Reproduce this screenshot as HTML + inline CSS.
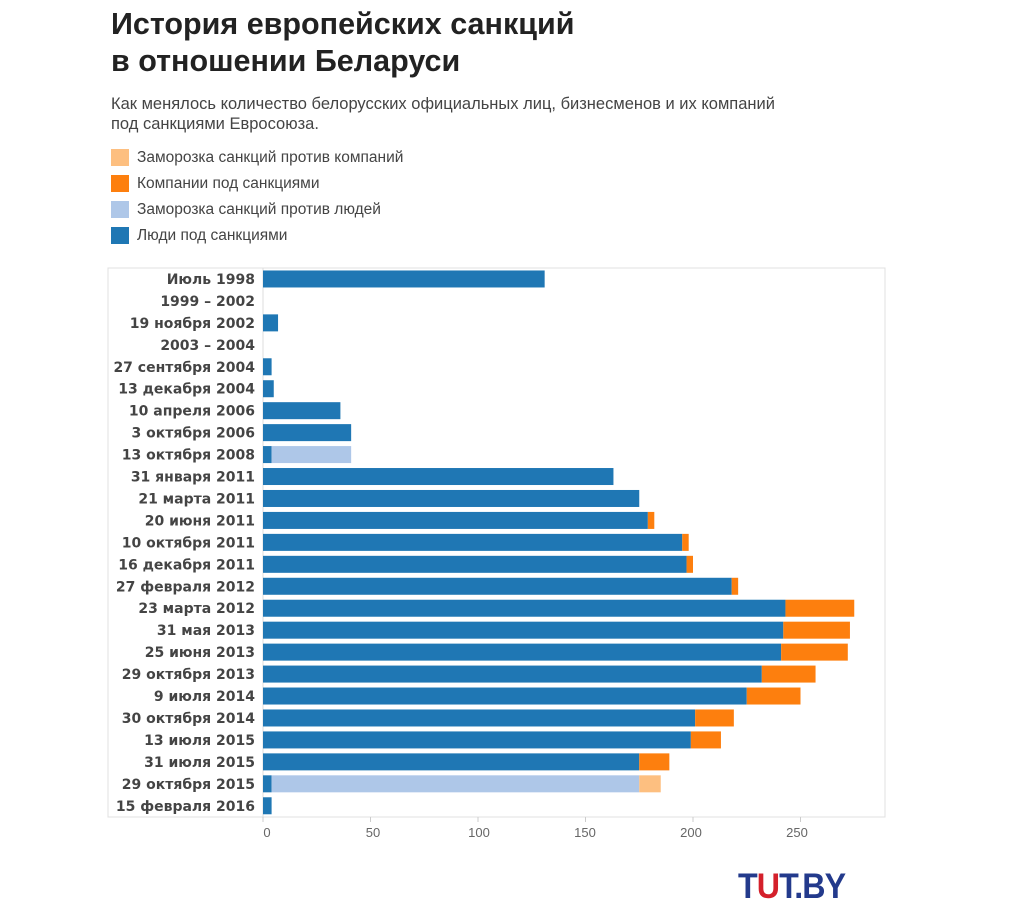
<!DOCTYPE html>
<html><head><meta charset="utf-8"><style>
body{margin:0;background:#fff;width:1024px;height:924px;overflow:hidden;font-family:"Liberation Sans","DejaVu Sans",sans-serif;}
.t{position:absolute;left:111px;font-weight:bold;font-size:30.5px;color:#222;line-height:37px}
.sub{position:absolute;left:111px;top:94px;font-size:16.5px;color:#444;line-height:20px}
.leg{position:absolute;left:111px;font-size:15.5px;color:#444}
.leg i{display:inline-block;width:18px;height:17px;vertical-align:middle;margin-right:8px}
</style></head><body>
<div class="t" style="top:6px">История европейских санкций<br>в отношении Беларуси</div>
<div class="sub">Как менялось количество белорусских официальных лиц, бизнесменов и их компаний<br>под санкциями Евросоюза.</div>
<div class="leg" style="top:149px"><i style="background:#fdbf80"></i>Заморозка санкций против компаний</div>
<div class="leg" style="top:175px"><i style="background:#fd7f0e"></i>Компании под санкциями</div>
<div class="leg" style="top:201px"><i style="background:#aec7e8"></i>Заморозка санкций против людей</div>
<div class="leg" style="top:227px"><i style="background:#1f77b4"></i>Люди под санкциями</div>
<svg id="c" width="1024" height="924" style="position:absolute;left:0;top:0"></svg>
<div style="position:absolute;left:738px;top:867px;font-weight:900;font-size:35px;color:#233a8c;letter-spacing:-1px;transform:scaleX(0.92);transform-origin:left">T<span style="color:#d4202b">U</span>T.BY</div>
<script>
const categories=["Июль 1998","1999 – 2002","19 ноября 2002","2003 – 2004","27 сентября 2004","13 декабря 2004","10 апреля 2006","3 октября 2006","13 октября 2008","31 января 2011","21 марта 2011","20 июня 2011","10 октября 2011","16 декабря 2011","27 февраля 2012","23 марта 2012","31 мая 2013","25 июня 2013","29 октября 2013","9 июля 2014","30 октября 2014","13 июля 2015","31 июля 2015","29 октября 2015","15 февраля 2016"];
const people=[131,0,7,0,4,5,36,41,4,163,175,179,195,197,218,243,242,241,232,225,201,199,175,4,4];
const frozenPeople=[0,0,0,0,0,0,0,0,37,0,0,0,0,0,0,0,0,0,0,0,0,0,0,171,0];
const companies=[0,0,0,0,0,0,0,0,0,0,0,3,3,3,3,32,31,31,25,25,18,14,14,0,0];
const frozenCompanies=[0,0,0,0,0,0,0,0,0,0,0,0,0,0,0,0,0,0,0,0,0,0,0,10,0];
const ticks=[0,50,100,150,200,250];
const colors=["#1f77b4","#aec7e8","#fd7f0e","#fdbf80"];
const series=[people,frozenPeople,companies,frozenCompanies];
const svg=document.getElementById('c');const NS="http://www.w3.org/2000/svg";
const x0=263,sc=2.15,y0=268,step=21.95,bh=17;
const xs=v=>x0+v*sc;
const xt=v=>x0+4+v*2.12;
function mk(t,a){const e=document.createElementNS(NS,t);for(const k in a)e.setAttribute(k,a[k]);svg.appendChild(e);return e;}
let f=mk('rect',{x:108,y:268,width:777,height:549,fill:'none',stroke:'#e0e0e0'});


let ax=mk('line',{x1:x0,y1:268,x2:x0,y2:817,stroke:'#ddd'});


categories.forEach((c,i)=>{
 const yc=y0+step*(i+0.5);
 const t=mk('text',{x:255,y:yc+5,'text-anchor':'end','font-size':14,'font-weight':'bold',fill:'#444','font-family':'"DejaVu Sans",sans-serif'});
 t.textContent=c;
 
 
 let acc=0;
 series.forEach((s,k)=>{
  if(s[i]>0){
   const r=mk('rect',{x:xs(acc),y:yc-bh/2,width:s[i]*sc,height:bh,fill:colors[k]});
   
   
   acc+=s[i];
  }
 });
});
ticks.forEach(v=>{
 const t=mk('text',{x:xt(v),y:837,'text-anchor':'middle','font-size':13,fill:'#666'});
 t.textContent=v;
 
 
 const l=mk('line',{x1:xs(v),y1:817,x2:xs(v),y2:822,stroke:'#ccc'});
 
 
});
</script>
</body></html>
